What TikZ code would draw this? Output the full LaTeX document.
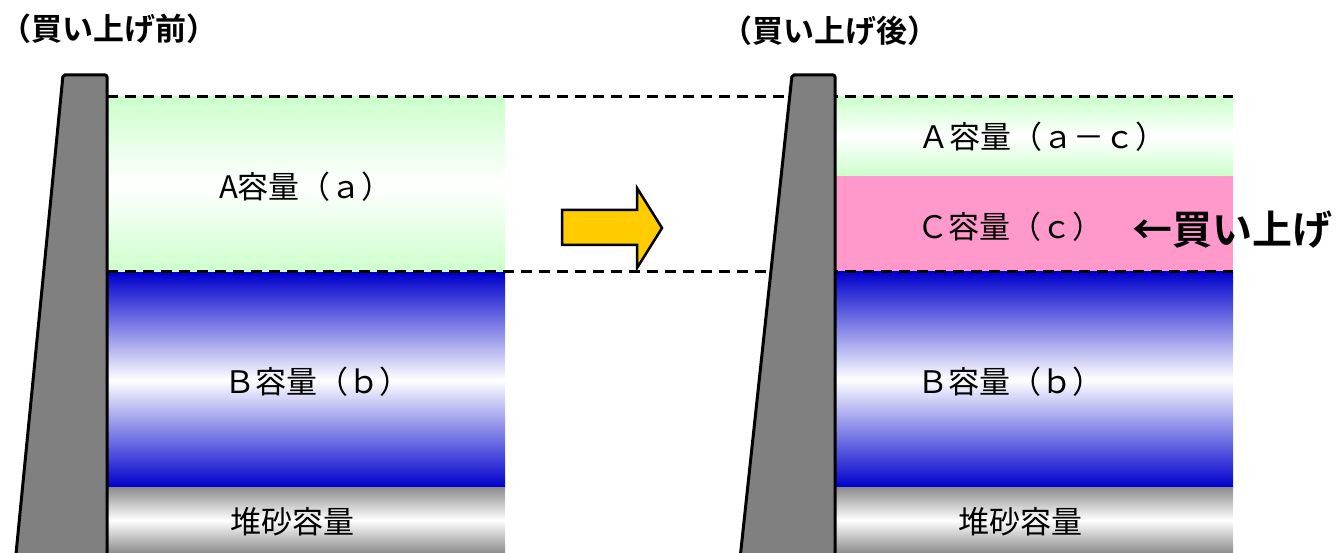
\documentclass[tikz,border=0pt]{standalone}
\usepackage{fontspec}
\newfontfamily\jp{Noto Sans CJK JP}[BoldFont={Noto Sans CJK JP Bold}]
\definecolor{agreen}{HTML}{CCFFCC}
\definecolor{bblue}{HTML}{0000CC}
\definecolor{cpink}{HTML}{FF99CC}
\definecolor{damgray}{HTML}{808080}
\definecolor{sgray}{HTML}{8C8C8C}
\definecolor{ayellow}{HTML}{FFCC00}
\begin{document}
\begin{tikzpicture}[x=1pt,y=-1pt,
  lbl/.style={font=\jp\fontsize{31}{31}\selectfont, inner sep=0pt, anchor=center},
  ttl/.style={font=\jp\bfseries\fontsize{31}{31}\selectfont, inner sep=0pt, anchor=center},
  big/.style={font=\jp\bfseries\fontsize{40}{40}\selectfont, inner sep=0pt, anchor=center},
  dashln/.style={line width=3pt, dash pattern=on 11pt off 7pt},
  dambody/.style={fill=damgray, draw=black, line width=3pt, rounded corners=2pt},
  zoneA/.style={top color=agreen, bottom color=agreen, middle color=white},
  zoneB/.style={top color=bblue, bottom color=bblue, middle color=white},
  zoneS/.style={top color=sgray, bottom color=sgray, middle color=white},
  bigarrow/.style={fill=ayellow, draw=black, line width=2.5pt, line join=miter}]
\useasboundingbox (0,0) rectangle (1339,553);
\clip (0,0) rectangle (1339,553);

% left reservoir
\shade[zoneA] (107,97) rectangle (505,273);
\shade[zoneB] (107,273) rectangle (505,487);
\shade[zoneS] (107,487) rectangle (505,553);

% right reservoir
\shade[zoneA] (835,97) rectangle (1233,176);
\fill[cpink] (835,176) rectangle (1233,272);
\shade[zoneB] (835,272) rectangle (1233,487);
\shade[zoneS] (835,487) rectangle (1233,553);

% dashed levels
\coordinate (t1) at (107,97);
\coordinate (t2) at (1233,97);
\coordinate (m1) at (107,272);
\coordinate (m2) at (1233,272);
\draw[dashln] (t1) -- (t2);
\draw[dashln] (m1) -- (m2);

% dams
\draw[dambody] (63,75) -- (107,75) -- (107,610) -- (10.5,610) -- cycle;
\draw[dambody] (792,75) -- (835,75) -- (835,610) -- (734.5,610) -- cycle;

% arrow
\draw[bigarrow] (562,210) -- (637,210) -- (637,188) -- (662,228) -- (637,268) -- (637,245) -- (562,245) -- cycle;

% titles
\node[ttl] (title1) at (109,29) {（買い上げ前）};
\node[ttl] (title2) at (830,31) {（買い上げ後）};

% labels left
\node[lbl] (la) at (306,187) {A容量（ａ）};
\node[lbl] (lb) at (317,382) {Ｂ容量（ｂ）};
\node[lbl] (ls) at (292,522) {堆砂容量};

% labels right
\node[lbl] (ra) at (1042,137) {Ａ容量（ａ－ｃ）};
\node[lbl] (rc) at (1010,227) {Ｃ容量（ｃ）};
\node[lbl] (rb) at (1010,382) {Ｂ容量（ｂ）};
\node[lbl] (rs) at (1020,522) {堆砂容量};
\node[big] (buy) at (1232,230) {←買い上げ};
\end{tikzpicture}
\end{document}
